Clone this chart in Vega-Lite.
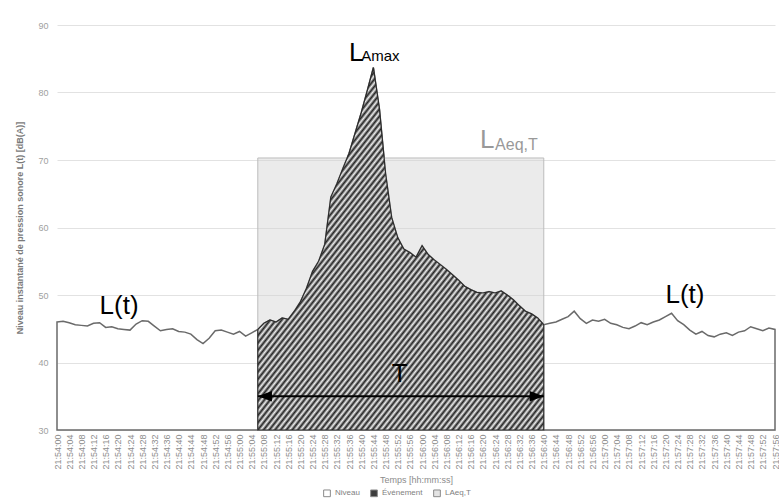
{
  "$schema": "https://vega.github.io/schema/vega-lite/v6.json",
  "width": 718,
  "height": 405,
  "autosize": {"type": "none"},
  "padding": {"left": 57, "top": 25, "right": 4, "bottom": 68},
  "background": "white",
  "config": {"view": {"stroke": null}, "font": "Liberation Sans"},
  "data": {
    "format": {"parse": {"t": "date:'%H:%M:%S'"}},
    "values": [
      {"t": "21:54:00", "L": 46.0}, {"t": "21:54:02", "L": 46.1}, {"t": "21:54:04", "L": 45.9}, {"t": "21:54:06", "L": 45.6},
      {"t": "21:54:08", "L": 45.5}, {"t": "21:54:10", "L": 45.4}, {"t": "21:54:12", "L": 45.8}, {"t": "21:54:14", "L": 45.9},
      {"t": "21:54:16", "L": 45.2}, {"t": "21:54:18", "L": 45.3}, {"t": "21:54:20", "L": 45.0}, {"t": "21:54:22", "L": 44.9},
      {"t": "21:54:24", "L": 44.8}, {"t": "21:54:26", "L": 45.7}, {"t": "21:54:28", "L": 46.2}, {"t": "21:54:30", "L": 46.1},
      {"t": "21:54:32", "L": 45.4}, {"t": "21:54:34", "L": 44.7}, {"t": "21:54:36", "L": 44.9}, {"t": "21:54:38", "L": 45.0},
      {"t": "21:54:40", "L": 44.6}, {"t": "21:54:42", "L": 44.5}, {"t": "21:54:44", "L": 44.2}, {"t": "21:54:46", "L": 43.4},
      {"t": "21:54:48", "L": 42.8}, {"t": "21:54:50", "L": 43.6}, {"t": "21:54:52", "L": 44.7}, {"t": "21:54:54", "L": 44.8},
      {"t": "21:54:56", "L": 44.5}, {"t": "21:54:58", "L": 44.2}, {"t": "21:55:00", "L": 44.6}, {"t": "21:55:02", "L": 43.9},
      {"t": "21:55:04", "L": 44.4},
      {"t": "21:55:06", "L": 44.9, "evt": 1}, {"t": "21:55:08", "L": 45.8, "evt": 1}, {"t": "21:55:10", "L": 46.3, "evt": 1},
      {"t": "21:55:12", "L": 46.0, "evt": 1}, {"t": "21:55:14", "L": 46.6, "evt": 1}, {"t": "21:55:16", "L": 46.4, "evt": 1},
      {"t": "21:55:18", "L": 47.6, "evt": 1}, {"t": "21:55:20", "L": 49.0, "evt": 1}, {"t": "21:55:22", "L": 51.0, "evt": 1},
      {"t": "21:55:24", "L": 53.5, "evt": 1}, {"t": "21:55:26", "L": 55.0, "evt": 1}, {"t": "21:55:28", "L": 57.5, "evt": 1},
      {"t": "21:55:30", "L": 64.5, "evt": 1}, {"t": "21:55:32", "L": 66.5, "evt": 1}, {"t": "21:55:34", "L": 68.8, "evt": 1},
      {"t": "21:55:36", "L": 71.0, "evt": 1}, {"t": "21:55:38", "L": 74.0, "evt": 1}, {"t": "21:55:40", "L": 77.0, "evt": 1},
      {"t": "21:55:42", "L": 80.3, "evt": 1}, {"t": "21:55:44", "L": 83.7, "evt": 1}, {"t": "21:55:46", "L": 77.5, "evt": 1},
      {"t": "21:55:48", "L": 68.0, "evt": 1}, {"t": "21:55:50", "L": 61.5, "evt": 1}, {"t": "21:55:52", "L": 58.5, "evt": 1},
      {"t": "21:55:54", "L": 56.8, "evt": 1}, {"t": "21:55:56", "L": 56.3, "evt": 1}, {"t": "21:55:58", "L": 55.6, "evt": 1},
      {"t": "21:56:00", "L": 57.3, "evt": 1}, {"t": "21:56:02", "L": 56.0, "evt": 1}, {"t": "21:56:04", "L": 55.2, "evt": 1},
      {"t": "21:56:06", "L": 54.5, "evt": 1}, {"t": "21:56:08", "L": 53.8, "evt": 1}, {"t": "21:56:10", "L": 53.0, "evt": 1},
      {"t": "21:56:12", "L": 52.2, "evt": 1}, {"t": "21:56:14", "L": 51.3, "evt": 1}, {"t": "21:56:16", "L": 50.8, "evt": 1},
      {"t": "21:56:18", "L": 50.4, "evt": 1}, {"t": "21:56:20", "L": 50.3, "evt": 1}, {"t": "21:56:22", "L": 50.5, "evt": 1},
      {"t": "21:56:24", "L": 50.3, "evt": 1}, {"t": "21:56:26", "L": 50.6, "evt": 1}, {"t": "21:56:28", "L": 50.0, "evt": 1},
      {"t": "21:56:30", "L": 49.3, "evt": 1}, {"t": "21:56:32", "L": 48.4, "evt": 1}, {"t": "21:56:34", "L": 47.6, "evt": 1},
      {"t": "21:56:36", "L": 47.2, "evt": 1}, {"t": "21:56:38", "L": 46.6, "evt": 1}, {"t": "21:56:40", "L": 45.6, "evt": 1},
      {"t": "21:56:42", "L": 45.8}, {"t": "21:56:44", "L": 46.0}, {"t": "21:56:46", "L": 46.4}, {"t": "21:56:48", "L": 46.8},
      {"t": "21:56:50", "L": 47.6}, {"t": "21:56:52", "L": 46.5}, {"t": "21:56:54", "L": 45.8}, {"t": "21:56:56", "L": 46.3},
      {"t": "21:56:58", "L": 46.1}, {"t": "21:57:00", "L": 46.4}, {"t": "21:57:02", "L": 45.8}, {"t": "21:57:04", "L": 45.6},
      {"t": "21:57:06", "L": 45.2}, {"t": "21:57:08", "L": 45.0}, {"t": "21:57:10", "L": 45.4}, {"t": "21:57:12", "L": 45.9},
      {"t": "21:57:14", "L": 45.6}, {"t": "21:57:16", "L": 46.0}, {"t": "21:57:18", "L": 46.3}, {"t": "21:57:20", "L": 46.8},
      {"t": "21:57:22", "L": 47.3}, {"t": "21:57:24", "L": 46.2}, {"t": "21:57:26", "L": 45.6}, {"t": "21:57:28", "L": 44.8},
      {"t": "21:57:30", "L": 44.2}, {"t": "21:57:32", "L": 44.6}, {"t": "21:57:34", "L": 44.0}, {"t": "21:57:36", "L": 43.8},
      {"t": "21:57:38", "L": 44.2}, {"t": "21:57:40", "L": 44.4}, {"t": "21:57:42", "L": 44.0}, {"t": "21:57:44", "L": 44.5},
      {"t": "21:57:46", "L": 44.7}, {"t": "21:57:48", "L": 45.3}, {"t": "21:57:50", "L": 45.0}, {"t": "21:57:52", "L": 44.7},
      {"t": "21:57:54", "L": 45.1}, {"t": "21:57:56", "L": 44.9}
    ]
  },
  "layer": [
    {
      "mark": {"type": "area", "fill": "#ffffff", "fillOpacity": 0, "stroke": "#6a6a6a", "strokeWidth": 1.5, "interpolate": "linear"},
      "encoding": {
        "x": {
          "field": "t", "type": "temporal",
          "scale": {"nice": false},
          "axis": {
            "title": "Temps [hh:mm:ss]", "format": "%H:%M:%S",
            "tickCount": {"interval": "seconds", "step": 4},
            "labelAngle": -90, "labelFontSize": 9, "labelColor": "#8c8c8c",
            "labelOverlap": false, "labelFlush": false, "labelPadding": 4,
            "ticks": false, "domain": false, "grid": false,
            "titleFontSize": 9, "titleFontWeight": "normal", "titleColor": "#8c8c8c", "titlePadding": 6
          }
        },
        "y": {
          "field": "L", "type": "quantitative",
          "scale": {"domain": [30, 90], "nice": false, "zero": false},
          "axis": {
            "title": "Niveau instantané de pression sonore L(t) [dB(A)]",
            "values": [30, 40, 50, 60, 70, 80, 90],
            "labelFontSize": 9, "labelColor": "#a0a0a0", "labelPadding": 9,
            "ticks": false, "domain": false, "gridColor": "#e2e2e2",
            "titleFontSize": 9, "titleColor": "#7a7a7a", "titleFontWeight": "bold", "titlePadding": 13
          }
        },
        "y2": {"datum": 30}
      }
    },
    {
      "data": {
        "format": {"parse": {"debut": "date:'%H:%M:%S'", "fin": "date:'%H:%M:%S'"}},
        "values": [{"debut": "21:55:06", "fin": "21:56:40", "laeq": 70.3}]
      },
      "mark": {"type": "rect", "fill": "#d2d2d2", "fillOpacity": 0.45, "stroke": "#bdbdbd", "strokeWidth": 1},
      "encoding": {
        "x": {"field": "debut", "type": "temporal"},
        "x2": {"field": "fin"},
        "y": {"field": "laeq", "type": "quantitative"},
        "y2": {"datum": 30}
      }
    },
    {
      "transform": [{"filter": "datum.evt == 1"}],
      "mark": {
        "type": "area", "stroke": "#2b2b2b", "strokeWidth": 1.2, "interpolate": "linear",
        "fill": {
          "gradient": "linear", "x1": 0, "y1": 0, "x2": 1, "y2": 1,
          "stops": [
            {"offset":0,"color":"#222"},{"offset":0.005,"color":"#eee"},{"offset":0.01,"color":"#222"},{"offset":0.015,"color":"#eee"},{"offset":0.02,"color":"#222"},{"offset":0.025,"color":"#eee"},{"offset":0.03,"color":"#222"},{"offset":0.035,"color":"#eee"},{"offset":0.04,"color":"#222"},{"offset":0.045,"color":"#eee"},{"offset":0.05,"color":"#222"},{"offset":0.055,"color":"#eee"},{"offset":0.06,"color":"#222"},{"offset":0.065,"color":"#eee"},{"offset":0.07,"color":"#222"},{"offset":0.075,"color":"#eee"},{"offset":0.08,"color":"#222"},{"offset":0.085,"color":"#eee"},{"offset":0.09,"color":"#222"},{"offset":0.095,"color":"#eee"},
            {"offset":0.1,"color":"#222"},{"offset":0.105,"color":"#eee"},{"offset":0.11,"color":"#222"},{"offset":0.115,"color":"#eee"},{"offset":0.12,"color":"#222"},{"offset":0.125,"color":"#eee"},{"offset":0.13,"color":"#222"},{"offset":0.135,"color":"#eee"},{"offset":0.14,"color":"#222"},{"offset":0.145,"color":"#eee"},{"offset":0.15,"color":"#222"},{"offset":0.155,"color":"#eee"},{"offset":0.16,"color":"#222"},{"offset":0.165,"color":"#eee"},{"offset":0.17,"color":"#222"},{"offset":0.175,"color":"#eee"},{"offset":0.18,"color":"#222"},{"offset":0.185,"color":"#eee"},{"offset":0.19,"color":"#222"},{"offset":0.195,"color":"#eee"},
            {"offset":0.2,"color":"#222"},{"offset":0.205,"color":"#eee"},{"offset":0.21,"color":"#222"},{"offset":0.215,"color":"#eee"},{"offset":0.22,"color":"#222"},{"offset":0.225,"color":"#eee"},{"offset":0.23,"color":"#222"},{"offset":0.235,"color":"#eee"},{"offset":0.24,"color":"#222"},{"offset":0.245,"color":"#eee"},{"offset":0.25,"color":"#222"},{"offset":0.255,"color":"#eee"},{"offset":0.26,"color":"#222"},{"offset":0.265,"color":"#eee"},{"offset":0.27,"color":"#222"},{"offset":0.275,"color":"#eee"},{"offset":0.28,"color":"#222"},{"offset":0.285,"color":"#eee"},{"offset":0.29,"color":"#222"},{"offset":0.295,"color":"#eee"},
            {"offset":0.3,"color":"#222"},{"offset":0.305,"color":"#eee"},{"offset":0.31,"color":"#222"},{"offset":0.315,"color":"#eee"},{"offset":0.32,"color":"#222"},{"offset":0.325,"color":"#eee"},{"offset":0.33,"color":"#222"},{"offset":0.335,"color":"#eee"},{"offset":0.34,"color":"#222"},{"offset":0.345,"color":"#eee"},{"offset":0.35,"color":"#222"},{"offset":0.355,"color":"#eee"},{"offset":0.36,"color":"#222"},{"offset":0.365,"color":"#eee"},{"offset":0.37,"color":"#222"},{"offset":0.375,"color":"#eee"},{"offset":0.38,"color":"#222"},{"offset":0.385,"color":"#eee"},{"offset":0.39,"color":"#222"},{"offset":0.395,"color":"#eee"},
            {"offset":0.4,"color":"#222"},{"offset":0.405,"color":"#eee"},{"offset":0.41,"color":"#222"},{"offset":0.415,"color":"#eee"},{"offset":0.42,"color":"#222"},{"offset":0.425,"color":"#eee"},{"offset":0.43,"color":"#222"},{"offset":0.435,"color":"#eee"},{"offset":0.44,"color":"#222"},{"offset":0.445,"color":"#eee"},{"offset":0.45,"color":"#222"},{"offset":0.455,"color":"#eee"},{"offset":0.46,"color":"#222"},{"offset":0.465,"color":"#eee"},{"offset":0.47,"color":"#222"},{"offset":0.475,"color":"#eee"},{"offset":0.48,"color":"#222"},{"offset":0.485,"color":"#eee"},{"offset":0.49,"color":"#222"},{"offset":0.495,"color":"#eee"},
            {"offset":0.5,"color":"#222"},{"offset":0.505,"color":"#eee"},{"offset":0.51,"color":"#222"},{"offset":0.515,"color":"#eee"},{"offset":0.52,"color":"#222"},{"offset":0.525,"color":"#eee"},{"offset":0.53,"color":"#222"},{"offset":0.535,"color":"#eee"},{"offset":0.54,"color":"#222"},{"offset":0.545,"color":"#eee"},{"offset":0.55,"color":"#222"},{"offset":0.555,"color":"#eee"},{"offset":0.56,"color":"#222"},{"offset":0.565,"color":"#eee"},{"offset":0.57,"color":"#222"},{"offset":0.575,"color":"#eee"},{"offset":0.58,"color":"#222"},{"offset":0.585,"color":"#eee"},{"offset":0.59,"color":"#222"},{"offset":0.595,"color":"#eee"},
            {"offset":0.6,"color":"#222"},{"offset":0.605,"color":"#eee"},{"offset":0.61,"color":"#222"},{"offset":0.615,"color":"#eee"},{"offset":0.62,"color":"#222"},{"offset":0.625,"color":"#eee"},{"offset":0.63,"color":"#222"},{"offset":0.635,"color":"#eee"},{"offset":0.64,"color":"#222"},{"offset":0.645,"color":"#eee"},{"offset":0.65,"color":"#222"},{"offset":0.655,"color":"#eee"},{"offset":0.66,"color":"#222"},{"offset":0.665,"color":"#eee"},{"offset":0.67,"color":"#222"},{"offset":0.675,"color":"#eee"},{"offset":0.68,"color":"#222"},{"offset":0.685,"color":"#eee"},{"offset":0.69,"color":"#222"},{"offset":0.695,"color":"#eee"},
            {"offset":0.7,"color":"#222"},{"offset":0.705,"color":"#eee"},{"offset":0.71,"color":"#222"},{"offset":0.715,"color":"#eee"},{"offset":0.72,"color":"#222"},{"offset":0.725,"color":"#eee"},{"offset":0.73,"color":"#222"},{"offset":0.735,"color":"#eee"},{"offset":0.74,"color":"#222"},{"offset":0.745,"color":"#eee"},{"offset":0.75,"color":"#222"},{"offset":0.755,"color":"#eee"},{"offset":0.76,"color":"#222"},{"offset":0.765,"color":"#eee"},{"offset":0.77,"color":"#222"},{"offset":0.775,"color":"#eee"},{"offset":0.78,"color":"#222"},{"offset":0.785,"color":"#eee"},{"offset":0.79,"color":"#222"},{"offset":0.795,"color":"#eee"},
            {"offset":0.8,"color":"#222"},{"offset":0.805,"color":"#eee"},{"offset":0.81,"color":"#222"},{"offset":0.815,"color":"#eee"},{"offset":0.82,"color":"#222"},{"offset":0.825,"color":"#eee"},{"offset":0.83,"color":"#222"},{"offset":0.835,"color":"#eee"},{"offset":0.84,"color":"#222"},{"offset":0.845,"color":"#eee"},{"offset":0.85,"color":"#222"},{"offset":0.855,"color":"#eee"},{"offset":0.86,"color":"#222"},{"offset":0.865,"color":"#eee"},{"offset":0.87,"color":"#222"},{"offset":0.875,"color":"#eee"},{"offset":0.88,"color":"#222"},{"offset":0.885,"color":"#eee"},{"offset":0.89,"color":"#222"},{"offset":0.895,"color":"#eee"},
            {"offset":0.9,"color":"#222"},{"offset":0.905,"color":"#eee"},{"offset":0.91,"color":"#222"},{"offset":0.915,"color":"#eee"},{"offset":0.92,"color":"#222"},{"offset":0.925,"color":"#eee"},{"offset":0.93,"color":"#222"},{"offset":0.935,"color":"#eee"},{"offset":0.94,"color":"#222"},{"offset":0.945,"color":"#eee"},{"offset":0.95,"color":"#222"},{"offset":0.955,"color":"#eee"},{"offset":0.96,"color":"#222"},{"offset":0.965,"color":"#eee"},{"offset":0.97,"color":"#222"},{"offset":0.975,"color":"#eee"},{"offset":0.98,"color":"#222"},{"offset":0.985,"color":"#eee"},{"offset":0.99,"color":"#222"},{"offset":0.995,"color":"#eee"},
            {"offset":1,"color":"#222"}
          ]
        }
      },
      "encoding": {
        "x": {"field": "t", "type": "temporal"},
        "y": {"field": "L", "type": "quantitative"},
        "y2": {"datum": 30}
      }
    },
    {
      "data": {
        "format": {"parse": {"debut": "date:'%H:%M:%S'", "fin": "date:'%H:%M:%S'"}},
        "values": [{"debut": "21:55:06", "fin": "21:56:40"}]
      },
      "layer": [
        {
          "mark": {"type": "rule", "color": "#000000", "strokeWidth": 2},
          "encoding": {
            "x": {"field": "debut", "type": "temporal"},
            "x2": {"field": "fin"},
            "y": {"datum": 35}
          }
        },
        {
          "mark": {"type": "point", "shape": "M0,0L2,-0.75L2,0.75Z", "size": 200, "filled": true, "color": "#000000", "opacity": 1},
          "encoding": {
            "x": {"field": "debut", "type": "temporal"},
            "y": {"datum": 35}
          }
        },
        {
          "mark": {"type": "point", "shape": "M0,0L-2,-0.75L-2,0.75Z", "size": 200, "filled": true, "color": "#000000", "opacity": 1},
          "encoding": {
            "x": {"field": "fin", "type": "temporal"},
            "y": {"datum": 35}
          }
        }
      ]
    },
    {
      "data": {
        "format": {"parse": {"t": "date:'%H:%M:%S'"}},
        "values": [
          {"t": "21:54:14", "v": 47.2, "txt": "L(t)"},
          {"t": "21:57:20", "v": 48.8, "txt": "L(t)"},
          {"t": "21:55:36", "v": 84.7, "txt": "L"},
          {"t": "21:55:50", "v": 37.1, "txt": "T"}
        ]
      },
      "mark": {"type": "text", "align": "left", "baseline": "alphabetic", "fontSize": 26, "color": "#000000", "font": "Liberation Sans"},
      "encoding": {
        "x": {"field": "t", "type": "temporal"},
        "y": {"field": "v", "type": "quantitative"},
        "text": {"field": "txt"}
      }
    },
    {
      "data": {
        "format": {"parse": {"t": "date:'%H:%M:%S'"}},
        "values": [{"t": "21:55:40", "v": 84.6, "txt": "Amax"}]
      },
      "mark": {"type": "text", "align": "left", "baseline": "alphabetic", "fontSize": 15, "color": "#000000", "font": "Liberation Sans"},
      "encoding": {
        "x": {"field": "t", "type": "temporal"},
        "y": {"field": "v", "type": "quantitative"},
        "text": {"field": "txt"}
      }
    },
    {
      "data": {
        "format": {"parse": {"t": "date:'%H:%M:%S'"}},
        "values": [{"t": "21:56:19", "v": 71.8, "txt": "L"}]
      },
      "mark": {"type": "text", "align": "left", "baseline": "alphabetic", "fontSize": 26, "color": "#999999", "font": "Liberation Sans"},
      "encoding": {
        "x": {"field": "t", "type": "temporal"},
        "y": {"field": "v", "type": "quantitative"},
        "text": {"field": "txt"}
      }
    },
    {
      "data": {
        "format": {"parse": {"t": "date:'%H:%M:%S'"}},
        "values": [{"t": "21:56:24", "v": 71.5, "txt": "Aeq,T"}]
      },
      "mark": {"type": "text", "align": "left", "baseline": "alphabetic", "fontSize": 16, "color": "#999999", "font": "Liberation Sans"},
      "encoding": {
        "x": {"field": "t", "type": "temporal"},
        "y": {"field": "v", "type": "quantitative"},
        "text": {"field": "txt"}
      }
    },
    {
      "data": {"values": [{"k": "Niveau"}, {"k": "Événement"}, {"k": "LAeq,T"}]},
      "mark": {"type": "point", "filled": true, "opacity": 0},
      "encoding": {
        "fill": {
          "field": "k", "type": "nominal",
          "scale": {"domain": ["Niveau", "Événement", "LAeq,T"], "range": ["#ffffff", "#3c3c3c", "#e4e4e4"]},
          "legend": {
            "title": null, "orient": "none", "legendX": 266, "legendY": 464, "direction": "horizontal",
            "symbolType": "square", "symbolSize": 45, "symbolStrokeColor": "#8a8a8a", "symbolStrokeWidth": 1,
            "symbolOpacity": 1, "labelFontSize": 8, "labelColor": "#808080", "columnPadding": 8
          }
        }
      }
    }
  ]
}
